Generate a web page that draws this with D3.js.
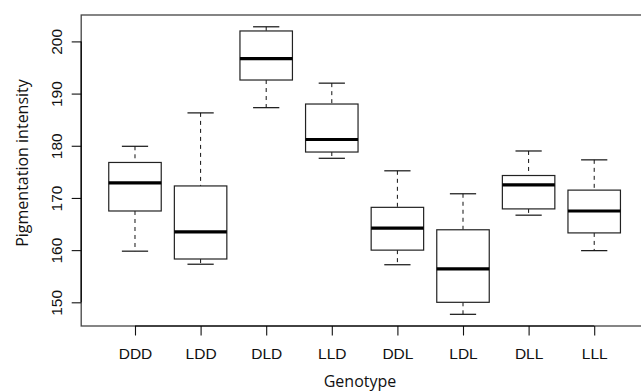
<!DOCTYPE html>
<html>
<head>
<meta charset="utf-8">
<script src="https://cdn.jsdelivr.net/npm/d3@7"></script>
<style>
body { margin: 0; background: #fff; }
</style>
</head>
<body>
<script>
var width = 641, height = 391;
// Genotype groups and five-number summaries
var genotypes = ['DDD', 'LDD', 'DLD', 'LLD', 'DDL', 'LDL', 'DLL', 'LLL'];
var lowWhisker = [159.8, 157.3, 187.3, 177.6, 157.2, 147.7, 166.7, 159.9];
var lowerQuartile = [167.5, 158.3, 192.6, 178.8, 160.0, 150.0, 167.9, 163.3];
var medians = [172.9, 163.5, 196.7, 181.2, 164.2, 156.4, 172.5, 167.5];
var upperQuartile = [176.8, 172.3, 202.0, 188.0, 168.2, 163.9, 174.3, 171.5];
var highWhisker = [179.9, 186.3, 202.8, 192.0, 175.2, 170.8, 179.0, 177.3];
var yTicks = [150, 160, 170, 180, 190, 200];

var data = genotypes.map(function(g, i) {
	return {g: g, lo: lowWhisker[i], q1: lowerQuartile[i], med: medians[i], q3: upperQuartile[i], hi: highWhisker[i]};
});

//Plot region, the right edge runs off the picture like in the original.
var margin = {top: 15, left: 81.2, bottom: 326, right: 648};

var svg = d3.select('body').append('svg')
	.attr('width', width)
	.attr('height', height);

var x = d3.scalePoint().domain(genotypes).range([margin.left, margin.right]).padding(0.82);
var y = d3.scaleLinear().domain([145.46, 205.06]).range([margin.bottom, margin.top]);
var step = x.step();

//Frame
svg.append('rect')
	.attr('x', margin.left).attr('y', margin.top)
	.attr('width', margin.right - margin.left)
	.attr('height', margin.bottom - margin.top)
	.style('fill', 'none').style('stroke', '#444').style('stroke-width', 1.3);

var boxes = svg.selectAll('.box').data(data).enter().append('g').attr('class', 'box');

//dashed whiskers
boxes.append('line')
	.attr('x1', function(d) { return x(d.g); }).attr('x2', function(d) { return x(d.g); })
	.attr('y1', function(d) { return y(d.hi); }).attr('y2', function(d) { return y(d.q3); })
	.style('stroke', '#111').style('stroke-dasharray', '4,4');
boxes.append('line')
	.attr('x1', function(d) { return x(d.g); }).attr('x2', function(d) { return x(d.g); })
	.attr('y1', function(d) { return y(d.q1); }).attr('y2', function(d) { return y(d.lo); })
	.style('stroke', '#111').style('stroke-dasharray', '4,4');
//caps
['lo', 'hi'].forEach(function(k) {
	boxes.append('line')
		.attr('x1', function(d) { return x(d.g) - 0.2 * step; })
		.attr('x2', function(d) { return x(d.g) + 0.2 * step; })
		.attr('y1', function(d) { return y(d[k]); }).attr('y2', function(d) { return y(d[k]); })
		.style('stroke', '#111').style('stroke-width', 1.2);
});
boxes.append('rect')
	.attr('x', function(d) { return x(d.g) - 0.4 * step; })
	.attr('width', 0.8 * step)
	.attr('y', function(d) { return y(d.q3); })
	.attr('height', function(d) { return y(d.q1) - y(d.q3); })
	.style('fill', '#fff').style('stroke', '#222').style('stroke-width', 1.2);
boxes.append('line')
	.attr('x1', function(d) { return x(d.g) - 0.4 * step; })
	.attr('x2', function(d) { return x(d.g) + 0.4 * step; })
	.attr('y1', function(d) { return y(d.med); }).attr('y2', function(d) { return y(d.med); })
	.style('stroke', '#000').style('stroke-width', 3.2);

//Axes, R style: line only between first and last tick
var xAxis = svg.append('g').attr('class', 'axis')
	.attr('transform', 'translate(0,' + margin.bottom + ')')
	.call(d3.axisBottom(x).tickSize(9.5).tickSizeOuter(0).tickPadding(12));
xAxis.select('.domain').remove();
xAxis.append('line')
	.attr('x1', x(genotypes[0])).attr('x2', x(genotypes[genotypes.length - 1]))
	.style('stroke', '#000').style('stroke-width', 1.2);

var yAxis = svg.append('g').attr('class', 'axis')
	.attr('transform', 'translate(' + margin.left + ',0)')
	.call(d3.axisLeft(y).tickValues(yTicks).tickSize(9.5).tickSizeOuter(0));
yAxis.select('.domain').remove();
yAxis.append('line')
	.attr('y1', y(yTicks[0])).attr('y2', y(yTicks[yTicks.length - 1]))
	.style('stroke', '#000').style('stroke-width', 1.2);
yAxis.selectAll('.tick text')
	.attr('x', null).attr('dy', null)
	.attr('text-anchor', 'middle')
	.attr('transform', 'translate(-19,0) rotate(-90)');

svg.selectAll('.axis .tick line').style('stroke', '#111').style('stroke-width', 1.1);
svg.selectAll('.axis text')
	.style('font-family', '"Liberation Sans", Arial, sans-serif')
	.style('font-size', '15.5px')
	.style('fill', '#111');

//Axis titles
svg.append('text')
	.attr('x', 360).attr('y', 387)
	.attr('text-anchor', 'middle')
	.style('font-family', '"Open Sans", sans-serif').style('font-size', '16px').style('fill', '#111')
	.text('Genotype');
svg.append('text')
	.attr('transform', 'translate(28,163) rotate(-90)')
	.attr('text-anchor', 'middle')
	.style('font-family', '"Open Sans", sans-serif').style('font-size', '16px').style('fill', '#111')
	.text('Pigmentation intensity');
</script>
</body>
</html>
